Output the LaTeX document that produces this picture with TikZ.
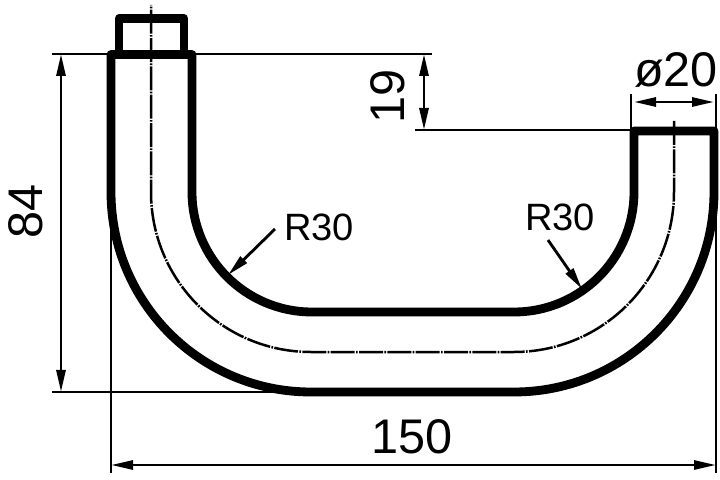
\documentclass[tikz,border=0pt]{standalone}
\usepackage{fontspec}
\setmainfont{Liberation Sans}
\usetikzlibrary{arrows.meta}
\tikzset{
  pipeline/.style={line width=.265cm,line join=round},
  capline/.style={line width=.25cm,line join=round},
  axisline/.style={line width=.075cm,dash pattern=on .72cm off .04cm on .05cm off .04cm},
  dimline/.style={line width=.085cm},
  dimarrow/.style={dimline,{Stealth[length=.66cm,width=.27cm,inset=0pt]}-{Stealth[length=.66cm,width=.27cm,inset=0pt]}},
  leader/.style={dimline,-{Stealth[length=.66cm,width=.27cm,inset=0pt]}},
  biglabel/.style={font=\fontsize{41.5}{41.5}\selectfont,inner sep=0pt},
  smalllabel/.style={font=\fontsize{32.5}{32.5}\selectfont,inner sep=0pt}
}
\begin{document}
\begin{tikzpicture}[x=.03cm,y=-.03cm]
\useasboundingbox (0,0) rectangle (720,480);
% extension lines
\coordinate (topL) at (52,54);
\coordinate (topR) at (432,54);
\coordinate (botL) at (52,392);
\coordinate (botR) at (295,392);
\coordinate (leftA) at (111,192);
\coordinate (leftB) at (111,473);
\coordinate (rightA) at (716,94);
\coordinate (rightB) at (716,473);
\coordinate (diaA) at (631,94);
\coordinate (diaB) at (631,130);
\coordinate (stepL) at (415,130);
\coordinate (stepR) at (634,130);
\draw[dimline] (topL)--(topR);
\draw[dimline] (botL)--(botR);
\draw[dimline] (leftA)--(leftB);
\draw[dimline] (rightA)--(rightB);
\draw[dimline] (diaA)--(diaB);
\draw[dimline] (stepL)--(stepR);
% centre line
\draw[axisline] (674,121)--(674,192) arc[start angle=0,end angle=90,radius=160]
  --(311,352) arc[start angle=90,end angle=180,radius=160]--(151,5);
% pipe
\draw[pipeline] (192,54.5)--(111,54.5)--(111,192) arc[start angle=180,end angle=90,radius=200]
  --(514,392) arc[start angle=90,end angle=0,radius=200]--(714,131)--(634,131)--(634,192)
  arc[start angle=0,end angle=90,radius=120]--(312,312) arc[start angle=90,end angle=180,radius=120]--cycle;
\draw[capline] (119,54)--(119,18.5)--(184,18.5)--(184,54);
% dimensions
\coordinate (dimA) at (61,54);
\coordinate (dimB) at (61,392);
\coordinate (dimC) at (424,54);
\coordinate (dimD) at (424,130);
\coordinate (dimE) at (111,465);
\coordinate (dimF) at (716,465);
\coordinate (dimG) at (634,102);
\coordinate (dimH) at (714,102);
\draw[dimarrow] (dimA)--(dimB);
\draw[dimarrow] (dimC)--(dimD);
\draw[dimarrow] (dimE)--(dimF);
\draw[dimarrow] (dimG)--(dimH);
\node[biglabel,rotate=90] (lab84) at (26,211) {84};
\node[biglabel,rotate=90] (lab19) at (388,96) {19};
\node[biglabel] (lab150) at (412,437) {150};
\node[biglabel] (labdia) at (676,70) {ø20};
\node[smalllabel] (labRa) at (319,227) {R30};
\node[smalllabel] (labRb) at (560,217) {R30};
\coordinate (arcA) at (228,275);
\coordinate (arcB) at (582,289);
\coordinate (leadA) at (275,229);
\coordinate (leadB) at (548,240);
\draw[leader] (leadA)--(arcA);
\draw[leader] (leadB)--(arcB);
\end{tikzpicture}
\end{document}
